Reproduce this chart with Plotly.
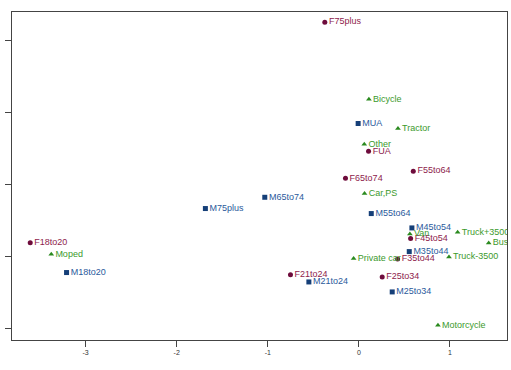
import plotly.graph_objects as go

female_labels = ["F75plus", "FUA", "F55to64", "F65to74", "F18to20", "F45to54", "F35to44", "F25to34", "F21to24"]
female_x = [-0.374, 0.106, 0.597, -0.147, -3.608, 0.568, 0.425, 0.256, -0.751]
female_y = [3.262, 1.463, 1.185, 1.087, 0.19, 0.247, -0.037, -0.288, -0.256]

male_labels = ["MUA", "M55to64", "M65to74", "M75plus", "M18to20", "M45to54", "M35to44", "M25to34", "M21to24"]
male_x = [-0.008, 0.136, -1.033, -1.685, -3.209, 0.582, 0.553, 0.366, -0.549]
male_y = [1.85, 0.595, 0.822, 0.665, -0.227, 0.395, 0.065, -0.497, -0.358]

veh_labels = ["Bicycle", "Tractor", "Other", "Car,PS", "Moped", "Van", "Truck+3500", "Bus",
              "Truck-3500", "Private car", "Motorcycle"]
veh_x = [0.11, 0.429, 0.059, 0.062, -3.377, 0.56, 1.084, 1.425, 0.989, -0.058, 0.868]
veh_y = [2.188, 1.78, 1.561, 0.874, 0.028, 0.311, 0.334, 0.186, -0.01, -0.032, -0.962]

x_ticks = [-3, -2, -1, 0, 1]
y_ticks = [-1, 0, 1, 2, 3]

fig = go.Figure()

def add(xs, ys, labels, symbol, mcolor, tcolor, size):
    fig.add_trace(go.Scatter(
        x=xs, y=ys, text=labels, mode="markers+text",
        textposition="middle right",
        marker=dict(symbol=symbol, color=mcolor, size=size),
        textfont=dict(family="Liberation Sans, Arial, sans-serif", size=9, color=tcolor),
        cliponaxis=True, showlegend=False, hoverinfo="text"))

add(female_x, female_y, female_labels, "circle", "#6e0c3c", "#8e1c4c", 5)
add(male_x, male_y, male_labels, "square", "#153f78", "#2b5a9c", 5)
add(veh_x, veh_y, veh_labels, "triangle-up", "#2a8a1e", "#3c9a2c", 5)

fig.update_layout(
    width=511, height=370,
    margin=dict(l=12, r=4, t=12, b=30),
    paper_bgcolor="white", plot_bgcolor="white",
    uniformtext=None,
)
fig.update_xaxes(range=[-3.808, 1.626], tickvals=x_ticks, ticktext=[str(v) for v in x_ticks],
                 showgrid=False, zeroline=False, showline=True, mirror=True,
                 linecolor="#444", linewidth=1, ticks="outside", ticklen=6, tickcolor="#444",
                 tickfont=dict(family="Liberation Sans, Arial, sans-serif", size=7, color="#333"))
fig.update_yaxes(range=[-1.167, 3.404], tickvals=y_ticks, showticklabels=False,
                 showgrid=False, zeroline=False, showline=True, mirror=True,
                 linecolor="#444", linewidth=1, ticks="outside", ticklen=6, tickcolor="#444")

fig.write_html("out.html")
